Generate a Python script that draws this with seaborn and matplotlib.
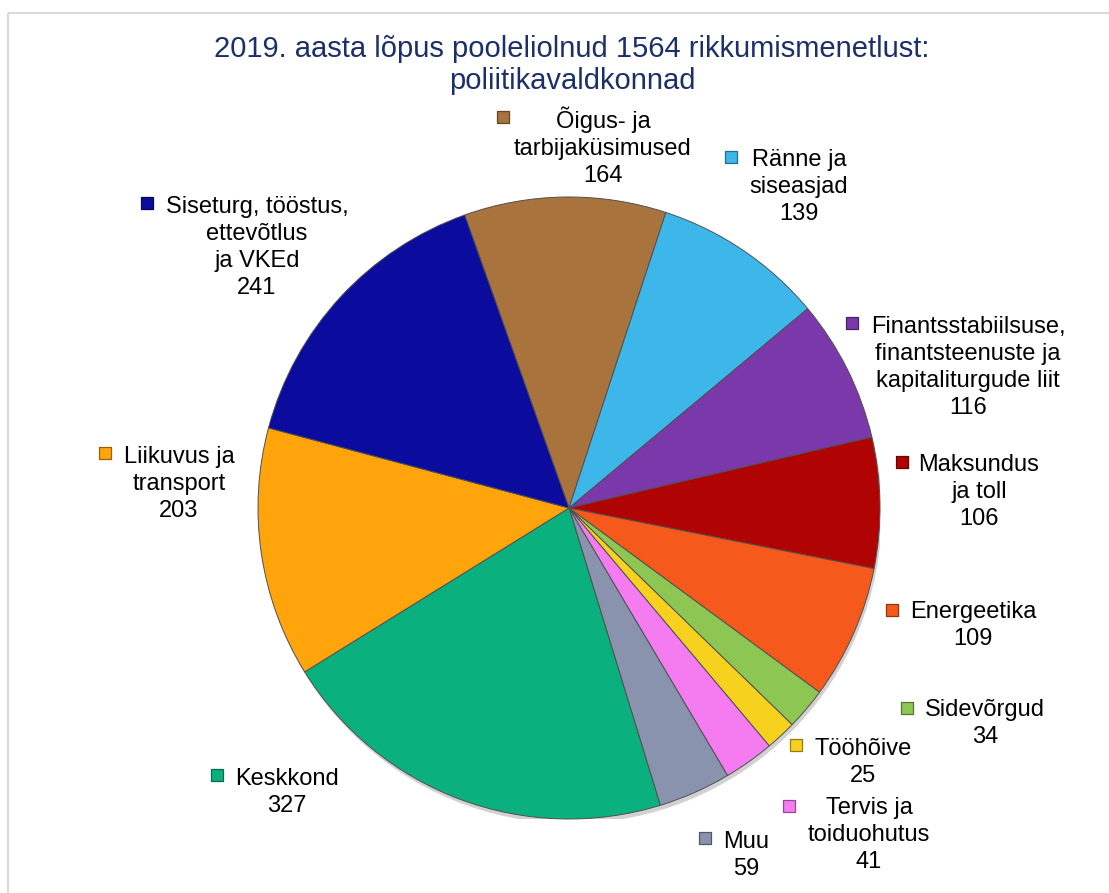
import matplotlib
matplotlib.use('Agg')
import matplotlib.pyplot as plt
import matplotlib.colors as mcolors
from matplotlib.patches import Rectangle, Circle
import seaborn as sns

# --- data ---
categories = [
    "Õigus- ja\ntarbijaküsimused",
    "Ränne ja\nsiseasjad",
    "Finantsstabiilsuse,\nfinantsteenuste ja\nkapitaliturgude liit",
    "Maksundus\nja toll",
    "Energeetika",
    "Sidevõrgud",
    "Tööhõive",
    "Tervis ja\ntoiduohutus",
    "Muu",
    "Keskkond",
    "Liikuvus ja\ntransport",
    "Siseturg, tööstus,\nettevõtlus\nja VKEd",
]
counts = [164, 139, 116, 106, 109, 34, 25, 41, 59, 327, 203, 241]
slice_colors = ["#A8733C", "#3DB7E9", "#7A38AA", "#B00303", "#F5591B", "#8DC653",
                "#F6D21E", "#F47BF0", "#8A93AD", "#0BB07F", "#FFA40B", "#0B0B9E"]
title = "2019. aasta lõpus pooleliolnud 1564 rikkumismenetlust:\npoliitikavaldkonnad"

# label layout in pixels: (text centre x, first line y, key x, key y)
label_pos = [
    (603, 120, 503, 117),
    (799, 158, 731, 157),
    (968, 325, 852, 323),
    (979, 463, 902, 462),
    (973, 610, 892, 610),
    (985, 708, 907, 708),
    (863, 747, 796, 745),
    (869, 806, 789, 806),
    (746, 840, 705, 838),
    (287, 777, 217, 775),
    (179, 455, 105, 453),
    (257, 205, 147, 203),
]

W, H = 1109, 893
sns.set_theme(style="white")
plt.rcParams['font.family'] = ['Liberation Sans', 'DejaVu Sans']

fig = plt.figure(figsize=(W / 100, H / 100), dpi=100)
fig.patch.set_facecolor("white")

# pie centred at (569, 508) px, radius 311 px
cx, cy, r = 569, 508, 311
ax = fig.add_axes([(cx - r) / W, (H - cy - r) / H, 2 * r / W, 2 * r / H])
ax.add_patch(Circle((0.006, -0.014), 1.0, color="#000000", alpha=0.18, lw=0, zorder=0))
palette = sns.color_palette(slice_colors)
ax.pie(counts, colors=palette, startangle=109.6, counterclock=False, radius=1,
       wedgeprops=dict(edgecolor="#505050", linewidth=0.7, zorder=2))
ax.set_xlim(-1, 1)
ax.set_ylim(-1, 1)
ax.set_aspect('auto')
ax.axis('off')

# overlay in pixel coordinates for frame, title and labels
ov = fig.add_axes([0, 0, 1, 1])
ov.set_xlim(0, W)
ov.set_ylim(H, 0)
ov.axis('off')
ov.add_patch(Rectangle((8, 13), W + 20, H + 20, fill=False, edgecolor="#D9D9D9", linewidth=1.5))

for i, line in enumerate(title.split("\n")):
    ov.text(572, 57 + i * 32, line, ha="center", va="baseline", fontsize=21, color="#1B2F6B")

for name, n, col, (tx, ty, kx, ky) in zip(categories, counts, slice_colors, label_pos):
    lines = name.split("\n") + [str(n)]
    for j, line in enumerate(lines):
        ov.text(tx, ty + 8 + j * 27, line, ha="center", va="baseline", fontsize=17, color="black")
    dark = tuple(c * 0.6 for c in mcolors.to_rgb(col))
    ov.scatter([kx], [ky], marker="s", s=70, color=col, edgecolors=[dark], linewidths=0.9, zorder=3)

fig.savefig("out.png", dpi=100)
